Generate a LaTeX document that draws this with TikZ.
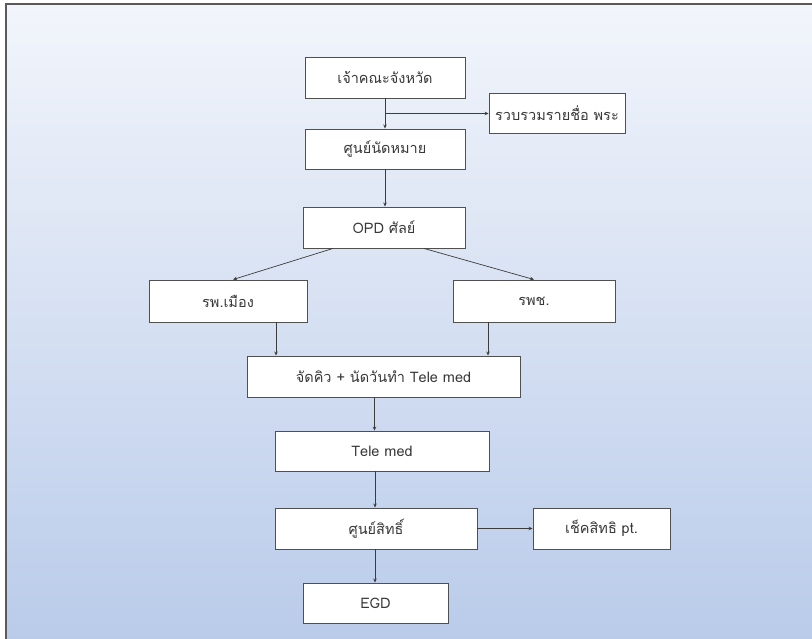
\documentclass[tikz,border=0pt]{standalone}
\usepackage{fontspec}
\newfontfamily\thaifont[Script=Thai]{Loma}
\usetikzlibrary{arrows.meta,calc}
\definecolor{bgtop}{HTML}{F2F5FB}
\definecolor{bgbot}{HTML}{B9CBEA}
\definecolor{framecol}{HTML}{5A5A5A}
\definecolor{boxline}{HTML}{505050}
\definecolor{linecol}{HTML}{3C3C3C}
\definecolor{txtcol}{HTML}{383838}
\tikzset{
  flowbox/.style={draw=boxline, line width=0.9pt, fill=white, inner sep=0pt,
    font=\thaifont\fontsize{14.5}{16}\selectfont, text=txtcol},
  conn/.style={draw=linecol, line width=0.7pt, -{Stealth[length=4pt,width=3.5pt]}},
  plain/.style={draw=linecol, line width=0.7pt}
}
\begin{document}
\begin{tikzpicture}[x=1pt,y=-1pt]
\useasboundingbox (0,0) rectangle (812,639);
\shade[top color=bgtop, bottom color=bgbot] (6,4) rectangle (820,645);
\draw[framecol, line width=1.4pt] (6,650) -- (6,4) -- (820,4);
\node[flowbox, minimum width=160pt, minimum height=41pt] (n1) at (385,77.5) {เจ้าคณะจังหวัด};
\node[flowbox, minimum width=136pt, minimum height=40pt] (n2) at (557,113) {รวบรวมรายชื่อ พระ};
\node[flowbox, minimum width=160pt, minimum height=40pt] (n3) at (385,149) {ศูนย์นัดหมาย};
\node[flowbox, minimum width=162pt, minimum height=41pt] (n4) at (384,227.5) {OPD ศัลย์};
\node[flowbox, minimum width=158pt, minimum height=42pt] (n5) at (228,301) {รพ.เมือง};
\node[flowbox, minimum width=162pt, minimum height=42pt] (n6) at (534,301) {รพช.};
\node[flowbox, minimum width=273pt, minimum height=41pt] (n7) at (383.5,376.5) {จัดคิว + นัดวันทำ Tele med};
\node[flowbox, minimum width=214pt, minimum height=40pt] (n8) at (382,451) {Tele med};
\node[flowbox, minimum width=202pt, minimum height=41pt] (n9) at (376,528.5) {ศูนย์สิทธิ์};
\node[flowbox, minimum width=137pt, minimum height=41pt] (n10) at (601.5,528.5) {เช็คสิทธิ pt.};
\node[flowbox, minimum width=145pt, minimum height=40pt] (n11) at (375.5,603) {EGD};
\coordinate (br) at ($(n1.south)!0.5!(n3.north)$);
\draw[conn] (n1.south) -- (n3.north);
\draw[conn] (br) -- (br -| n2.west);
\draw[conn] (n3.south) -- (n3.south |- n4.north);
\draw[conn] ([xshift=-51pt]n4.south) -- ([xshift=5pt]n5.north);
\draw[conn] ([xshift=40pt]n4.south) -- (n6.north);
\draw[conn] ([xshift=48pt]n5.south) -- ([xshift=48pt]n5.south |- n7.north);
\draw[conn] ([xshift=-46pt]n6.south) -- ([xshift=-46pt]n6.south |- n7.north);
\draw[conn] ([xshift=-9pt]n7.south) -- ([xshift=-9pt]n7.south |- n8.north);
\draw[conn] ([xshift=-7pt]n8.south) -- ([xshift=-7pt]n8.south |- n9.north);
\draw[conn] (n9.east) -- (n10.west);
\draw[conn] ([xshift=-1pt]n9.south) -- ([xshift=-1pt]n9.south |- n11.north);
\end{tikzpicture}
\end{document}
